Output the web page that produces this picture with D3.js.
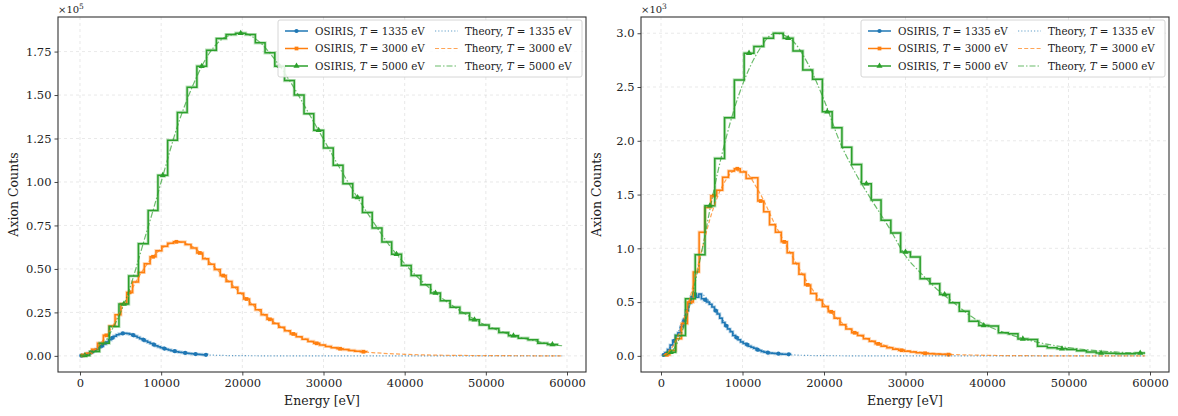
<!DOCTYPE html>
<html><head><meta charset="utf-8">
<script src="https://cdn.jsdelivr.net/npm/d3@7"></script>
<style>
body{margin:0;background:#fff}
svg{display:block}
text{font-family:'DejaVu Serif',serif;fill:#222}
</style>
</head><body>
<svg id="c" width="1178" height="416"></svg>
<script>
// ---------------- data ----------------
const temperatures = [1335, 3000, 5000];
const seriesColors = ['#1f77b4', '#ff7f0e', '#2ca02c'];
const energyTicks = [0, 10000, 20000, 30000, 40000, 50000, 60000];
const leftYTicks = [0, 0.25, 0.5, 0.75, 1.0, 1.25, 1.5, 1.75];
const rightYTicks = [0, 0.5, 1.0, 1.5, 2.0, 2.5, 3.0];
const histBinWidth = [320, 720, 1200];
const leftHistFirstEdge = [0, 0, 0];
const rightHistFirstEdge = [160, 360, 600];

// OSIRIS histograms, left panel (x1e5)
const leftOsiris1335 = [0.001,0.003,0.008,0.014,0.021,0.029,0.038,0.048,0.058,0.068,
  0.080,0.092,0.104,0.113,0.121,0.126,0.129,0.130,0.128,0.124,
  0.119,0.113,0.106,0.099,0.092,0.085,0.078,0.071,0.064,0.058,
  0.052,0.047,0.042,0.038,0.034,0.030,0.027,0.024,0.021,0.019,
  0.017,0.015,0.013,0.012,0.010,0.009,0.008,0.007,0.006,0.005];
const leftOsiris3000 = [0.003,0.015,0.038,0.073,0.118,0.172,0.236,0.300,0.365,0.425,
  0.480,0.530,0.570,0.605,0.630,0.648,0.656,0.655,0.640,0.620,
  0.592,0.558,0.527,0.496,0.462,0.428,0.394,0.360,0.327,0.295,
  0.265,0.236,0.210,0.186,0.164,0.144,0.126,0.110,0.096,0.083,
  0.072,0.062,0.054,0.047,0.041,0.036,0.031,0.027,0.024,0.021];
const leftOsiris5000 = [0.002,0.025,0.073,0.169,0.298,0.460,0.645,0.836,1.038,1.240,
  1.400,1.545,1.666,1.758,1.825,1.848,1.856,1.848,1.800,1.743,
  1.666,1.583,1.500,1.393,1.297,1.196,1.096,0.990,0.911,0.825,
  0.735,0.655,0.585,0.520,0.462,0.409,0.361,0.317,0.280,0.246,
  0.207,0.178,0.157,0.134,0.115,0.102,0.092,0.073,0.065,0.058];

// OSIRIS histograms, right panel (x1e3)
const rightOsiris1335 = [0.008,0.030,0.060,0.100,0.140,0.190,0.215,0.270,0.330,0.420,
  0.490,0.550,0.575,0.545,0.575,0.530,0.520,0.500,0.480,0.455,
  0.420,0.390,0.350,0.310,0.280,0.250,0.225,0.190,0.170,0.150,
  0.130,0.115,0.105,0.090,0.080,0.070,0.058,0.050,0.040,0.034,
  0.030,0.026,0.024,0.022,0.020,0.018,0.016,0.015,0.014,0.013];
const rightOsiris3000 = [0.010,0.050,0.160,0.300,0.500,0.780,1.150,1.380,1.490,1.540,
  1.660,1.720,1.740,1.710,1.650,1.656,1.440,1.340,1.220,1.150,
  1.060,0.960,0.860,0.760,0.660,0.580,0.520,0.460,0.410,0.350,
  0.290,0.250,0.215,0.190,0.160,0.135,0.112,0.090,0.075,0.062,
  0.052,0.043,0.036,0.028,0.024,0.020,0.017,0.014,0.012,0.012];
const rightOsiris5000 = [0.034,0.190,0.531,0.941,1.395,1.836,2.215,2.566,2.815,2.877,
  2.954,3.001,2.954,2.836,2.659,2.572,2.271,2.122,1.940,1.780,
  1.600,1.450,1.261,1.143,0.966,0.920,0.718,0.671,0.571,0.494,
  0.416,0.323,0.283,0.277,0.214,0.205,0.158,0.152,0.090,0.075,
  0.066,0.060,0.048,0.035,0.026,0.024,0.020,0.020,0.026,0.026];

// Theory curves
const theoryEnergy = [200,1000,2000,3000,4000,5000,6000,7000,8000,9000,10000,
  12000,14000,16000,18000,20000,22000,24000,26000,
  28000,30000,32000,34000,36000,38000,40000,42000,44000,46000,48000,50000,52000,54000,56000,58000,59400];
const leftTheory1335 = [0.001,0.012,0.038,0.068,0.104,0.126,0.128,0.111,0.088,0.066,0.048,
  0.024,0.011,0.005,0.002,0.001,0.0005,0.0002,0.0001,
  0,0,0,0,0,0,0,0,0,0,0,0,0,0,0,0,0];
const leftTheory3000 = [0.001,0.013,0.042,0.100,0.170,0.260,0.350,0.435,0.510,0.570,0.615,
  0.655,0.624,0.537,0.443,0.351,0.263,0.190,0.133,
  0.092,0.061,0.041,0.028,0.019,0.013,0.009,0.006,0.004,0.003,0.002,0.0015,0.001,0.0007,0.0005,0.0003,0.0002];
const leftTheory5000 = [0.0,0.008,0.030,0.075,0.155,0.250,0.370,0.520,0.680,0.836,1.000,
  1.320,1.565,1.745,1.835,1.856,1.810,1.705,1.570,
  1.410,1.246,1.080,0.924,0.780,0.643,0.530,0.435,0.354,0.285,0.226,0.176,0.138,0.108,0.087,0.066,0.058];
const rightTheory1335 = [0.010,0.070,0.200,0.400,0.550,0.570,0.500,0.400,0.290,0.200,0.135,
  0.058,0.024,0.010,0.004,0.002,0.001,0.0005,0.0002,
  0,0,0,0,0,0,0,0,0,0,0,0,0,0,0,0,0];
const rightTheory3000 = [0.002,0.040,0.170,0.390,0.670,0.980,1.270,1.490,1.640,1.720,1.720,
  1.530,1.220,0.940,0.680,0.480,0.320,0.210,0.135,
  0.085,0.052,0.032,0.020,0.012,0.008,0.005,0.003,0.002,0.001,0.0007,0.0005,0.0003,0.0002,0.0001,0.0001,0.0];
const rightTheory5000 = [0.0,0.020,0.120,0.320,0.620,0.970,1.360,1.720,2.030,2.300,2.520,
  2.840,3.000,2.940,2.720,2.380,1.980,1.680,1.430,
  1.190,0.930,0.760,0.610,0.490,0.370,0.280,0.220,0.170,0.130,0.100,0.077,0.058,0.045,0.035,0.028,0.024];

// ---------------- drawing ----------------
const svg = d3.select('#c');
const symbolTypes = [d3.symbolCircle, d3.symbolSquare, d3.symbolTriangle];
const symbolSizes = [14, 14, 16];
const theoryDash = ['1.2,2', '4,2.2', '6,2,1.5,2'];

const panels = [
  {id:'L', left:58, right:586, top:17, bottom:372, xDomain:[-2710, 62340], yDomain:[-0.0928, 1.9488],
   yTicks:leftYTicks, yFmt:d3.format('.2f'), exp:'5', firstEdge:leftHistFirstEdge,
   hist:[leftOsiris1335, leftOsiris3000, leftOsiris5000], theory:[leftTheory1335, leftTheory3000, leftTheory5000]},
  {id:'R', left:641, right:1169, top:17, bottom:372, xDomain:[-2454, 62331], yDomain:[-0.15, 3.151],
   yTicks:rightYTicks, yFmt:d3.format('.1f'), exp:'3', firstEdge:rightHistFirstEdge,
   hist:[rightOsiris1335, rightOsiris3000, rightOsiris5000], theory:[rightTheory1335, rightTheory3000, rightTheory5000]}
];

const defs = svg.append('defs');

panels.forEach(p => {
  const x = d3.scaleLinear().domain(p.xDomain).range([p.left, p.right]);
  const y = d3.scaleLinear().domain(p.yDomain).range([p.bottom, p.top]);
  const g = svg.append('g');
  defs.append('clipPath').attr('id', 'clip' + p.id).append('rect')
    .attr('x', p.left).attr('y', p.top).attr('width', p.right - p.left).attr('height', p.bottom - p.top);

  // grid
  const grid = g.append('g').attr('stroke', '#b0b0b0').attr('stroke-opacity', 0.35)
    .attr('stroke-width', 0.8).attr('stroke-dasharray', '3,3');
  grid.selectAll('.gx').data(energyTicks).join('line')
    .attr('x1', d => x(d)).attr('x2', d => x(d)).attr('y1', p.top).attr('y2', p.bottom);
  grid.selectAll('.gy').data(p.yTicks).join('line')
    .attr('y1', d => y(d)).attr('y2', d => y(d)).attr('x1', p.left).attr('x2', p.right);

  // axes
  const xa = g.append('g').attr('transform', `translate(0,${p.bottom})`)
    .call(d3.axisBottom(x).tickValues(energyTicks).tickFormat(d3.format('d')).tickSize(3.5).tickSizeOuter(0).tickPadding(3));
  const ya = g.append('g').attr('transform', `translate(${p.left},0)`)
    .call(d3.axisLeft(y).tickValues(p.yTicks).tickFormat(p.yFmt).tickSize(3.5).tickSizeOuter(0).tickPadding(3));
  [xa, ya].forEach(a => {
    a.select('.domain').remove();
    a.selectAll('line').attr('stroke', '#333').attr('stroke-width', 0.9);
    a.selectAll('text').attr('font-size', 11.5).attr('font-family', "'DejaVu Serif',serif").attr('fill', '#222');
  });

  const plot = g.append('g').attr('clip-path', `url(#clip${p.id})`);
  // OSIRIS histograms
  p.hist.forEach((vals, i) => {
    const w = histBinWidth[i];
    const pts = vals.map((v, k) => [p.firstEdge[i] + k * w, v]);
    const line = d3.line().x(d => x(d[0])).y(d => y(d[1])).curve(d3.curveStepAfter);
    plot.append('path').datum(pts).attr('d', line).attr('fill', 'none')
      .attr('stroke', seriesColors[i]).attr('stroke-opacity', 0.3).attr('stroke-width', 3.2);
    plot.append('path').datum(pts).attr('d', line).attr('fill', 'none')
      .attr('stroke', seriesColors[i]).attr('stroke-width', 1.5).attr('stroke-linejoin', 'miter');
    const mk = pts.filter((d, k) => k % 4 === 0 && k < pts.length - 1);
    plot.selectAll(null).data(mk).join('path')
      .attr('transform', d => `translate(${x(d[0] + w / 2)},${y(d[1])})`)
      .attr('d', d3.symbol().type(symbolTypes[i]).size(symbolSizes[i]))
      .attr('fill', seriesColors[i]);
  });
  // theory
  p.theory.forEach((vals, i) => {
    const pts = vals.map((v, k) => [theoryEnergy[k], v]);
    plot.append('path').datum(pts)
      .attr('d', d3.line().x(d => x(d[0])).y(d => y(d[1])).curve(d3.curveMonotoneX))
      .attr('fill', 'none').attr('stroke', seriesColors[i]).attr('stroke-width', 1.2)
      .attr('stroke-opacity', 0.7).attr('stroke-dasharray', theoryDash[i]);
  });

  // frame
  g.append('rect').attr('x', p.left).attr('y', p.top).attr('width', p.right - p.left).attr('height', p.bottom - p.top)
    .attr('fill', 'none').attr('stroke', '#333').attr('stroke-width', 1.1);

  // offset text
  const ot = g.append('text').attr('x', p.left).attr('y', p.top - 4).attr('font-size', 10);
  ot.append('tspan').text('×10');
  ot.append('tspan').attr('dy', -4.5).attr('font-size', 7.5).text(p.exp);

  // axis labels
  g.append('text').attr('x', (p.left + p.right) / 2).attr('y', 405).attr('text-anchor', 'middle')
    .attr('font-size', 12.5).text('Energy [eV]');
  g.append('text').attr('transform', `translate(${p.left - 40},${(p.top + p.bottom) / 2}) rotate(-90)`)
    .attr('text-anchor', 'middle').attr('font-size', 12.5).text('Axion Counts');

  // legend
  const lr = p.right - 4, lt = p.top + 3;
  const lg = g.append('g');
  lg.append('rect').attr('x', lr - 304).attr('y', lt).attr('width', 304).attr('height', 57).attr('rx', 2)
    .attr('fill', '#fff').attr('fill-opacity', 0.85).attr('stroke', '#ccc').attr('stroke-width', 0.8);
  const rowY = [lt + 11, lt + 28.5, lt + 46];
  temperatures.forEach((T, i) => {
    // OSIRIS column
    const hx = lr - 297, tx = lr - 267;
    lg.append('line').attr('x1', hx).attr('x2', hx + 23).attr('y1', rowY[i]).attr('y2', rowY[i])
      .attr('stroke', seriesColors[i]).attr('stroke-width', 1.5);
    lg.append('path').attr('transform', `translate(${hx + 11.5},${rowY[i]})`)
      .attr('d', d3.symbol().type(symbolTypes[i]).size(symbolSizes[i])).attr('fill', seriesColors[i]);
    const t1 = lg.append('text').attr('x', tx).attr('y', rowY[i] + 3.8).attr('font-size', 10.3);
    t1.append('tspan').text('OSIRIS, ');
    t1.append('tspan').attr('font-style', 'italic').text('T');
    t1.append('tspan').text(` = ${T} eV`);
    // theory column
    const hx2 = lr - 147, tx2 = lr - 117;
    lg.append('line').attr('x1', hx2).attr('x2', hx2 + 23).attr('y1', rowY[i]).attr('y2', rowY[i])
      .attr('stroke', seriesColors[i]).attr('stroke-width', 1.2).attr('stroke-opacity', 0.7)
      .attr('stroke-dasharray', theoryDash[i]);
    const t2 = lg.append('text').attr('x', tx2).attr('y', rowY[i] + 3.8).attr('font-size', 10.3);
    t2.append('tspan').text('Theory, ');
    t2.append('tspan').attr('font-style', 'italic').text('T');
    t2.append('tspan').text(` = ${T} eV`);
  });
});
</script>
</body></html>
